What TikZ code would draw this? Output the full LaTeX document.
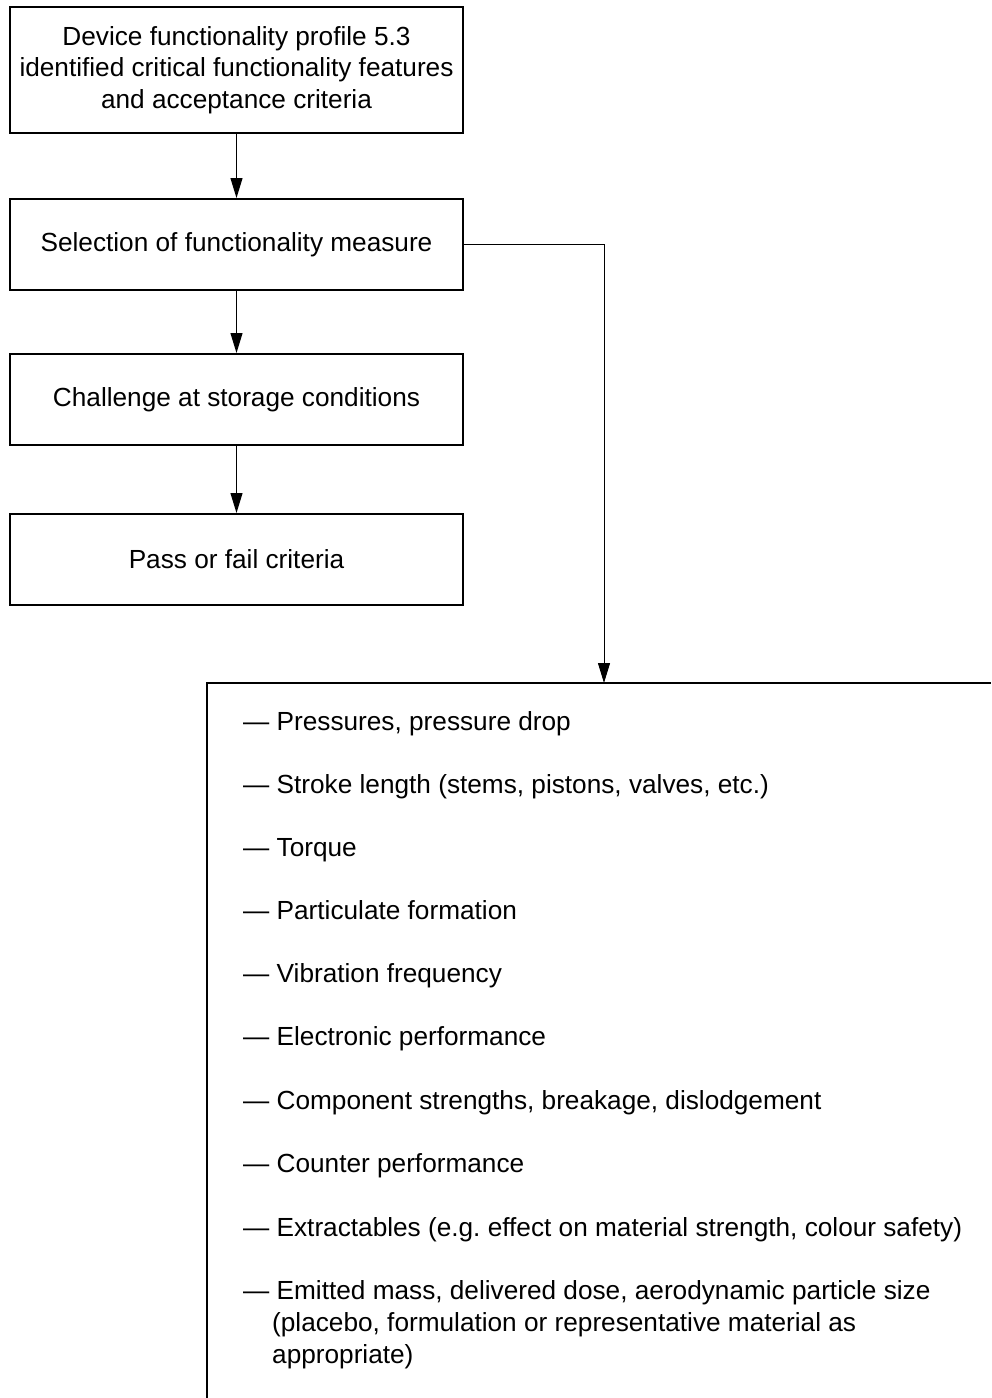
\documentclass[tikz,border=0pt]{standalone}
\usepackage{fontspec}
\setmainfont{Liberation Sans}
\usetikzlibrary{arrows.meta}
\frenchspacing
\begin{document}
\begin{tikzpicture}[x=1pt,y=-1pt,
  stepbox/.style={draw,line width=2pt,minimum width=453pt,inner sep=0pt,align=center,font=\fontsize{26.2}{31.5}\selectfont},
  conn/.style={line width=1pt,-{Triangle[length=20pt,width=12pt]}},
  item/.style={anchor=base west,inner sep=0pt,align=left,font=\fontsize{26.2}{32}\selectfont}]
\useasboundingbox (0,0) rectangle (991,1398);
\node[stepbox,minimum height=126pt] (b1) at (236.5,70) {Device functionality profile 5.3\\identified critical functionality features\\and acceptance criteria};
\node[stepbox,minimum height=91pt] (b2) at (236.5,244.5) {Selection of functionality measure};
\node[stepbox,minimum height=91pt] (b3) at (236.5,399.5) {Challenge at storage conditions};
\node[stepbox,minimum height=91pt] (b4) at (236.5,559.5) {Pass or fail criteria};
\coordinate (lt) at (207,683);
\coordinate (tr) at (991,683);
\coordinate (lb) at (207,1398);
\draw[line width=2pt] (lb) -- (lt) -- (tr);
\coordinate (ent) at (604,683);
\draw[conn] (b1.south) -- (b2.north);
\draw[conn] (b2.south) -- (b3.north);
\draw[conn] (b3.south) -- (b4.north);
\draw[conn] (b2.east) -| (ent);
\node[item] (i1) at (243,730) {— Pressures, pressure drop};
\node[item] (i2) at (243,793) {— Stroke length (stems, pistons, valves, etc.)};
\node[item] (i3) at (243,856) {— Torque};
\node[item] (i4) at (243,919) {— Particulate formation};
\node[item] (i5) at (243,982) {— Vibration frequency};
\node[item] (i6) at (243,1045) {— Electronic performance};
\node[item] (i7) at (243,1109) {— Component strengths, breakage, dislodgement};
\node[item] (i8) at (243,1172) {— Counter performance};
\node[item] (i9) at (243,1236) {— Extractables (e.g. effect on material strength, colour safety)};
\node[item] (i10) at (243,1363) {— Emitted mass, delivered dose, aerodynamic particle size\\\hspace*{29pt}(placebo, formulation or representative material as\\\hspace*{29pt}appropriate)};
\end{tikzpicture}
\end{document}
